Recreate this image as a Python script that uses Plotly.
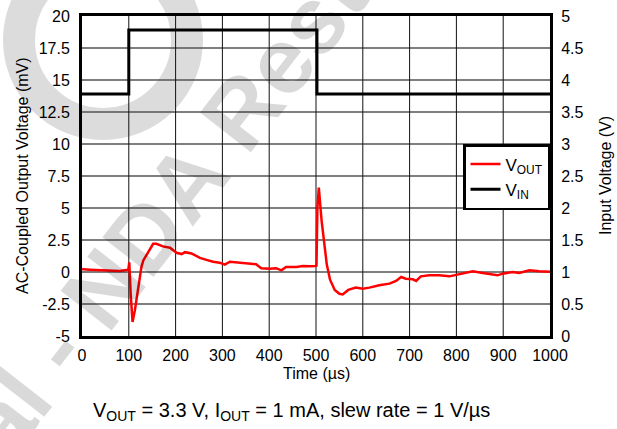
import plotly.graph_objects as go

# ---------------- data ----------------
time_us = [0, 3, 17, 38, 60, 81, 99, 101, 104, 108, 113, 120, 127, 131, 138, 145, 152,
           159, 173, 188, 202, 213, 220, 234, 252, 266, 280, 294, 305, 316, 337, 358,
           372, 383, 401, 415, 426, 436, 458, 472, 486, 499, 501, 503, 506, 512, 516,
           523, 530, 540, 550, 557, 569, 585, 600, 614, 635, 657, 671, 682, 692, 707,
           714, 724, 742, 763, 785, 803, 813, 835, 853, 870, 888, 899, 920, 934, 956,
           977, 1000]
vout_mv = [0.25, 0.21, 0.18, 0.13, 0.13, 0.08, 0.18, 0.75, -1.7, -3.9, -3.0, -1.4, 0.4,
           0.9, 1.3, 1.7, 2.2, 2.2, 2.0, 1.9, 1.5, 1.4, 1.55, 1.45, 1.1, 0.95, 0.8, 0.73,
           0.57, 0.8, 0.73, 0.7, 0.6, 0.3, 0.26, 0.3, 0.13, 0.4, 0.4, 0.47, 0.44, 0.47,
           0.5, 5.0, 6.6, 4.0, 2.7, 0.6, -0.6, -1.4, -1.7, -1.75, -1.4, -1.22, -1.3,
           -1.22, -1.04, -0.91, -0.7, -0.39, -0.52, -0.57, -0.7, -0.34, -0.26, -0.26,
           -0.34, -0.18, -0.13, 0.05, -0.05, -0.18, -0.26, -0.13, 0.0, -0.08, 0.13,
           0.05, 0.02]

vin_time_us = [0, 100, 100, 502, 502, 1000]
vin_v = [3.78, 3.78, 4.78, 4.78, 3.78, 3.78]

x_ticks = [0, 100, 200, 300, 400, 500, 600, 700, 800, 900, 1000]
y_ticks = [-5, -2.5, 0, 2.5, 5, 7.5, 10, 12.5, 15, 17.5, 20]
y_tick_labels = ["-5", "-2.5", "0", "2.5", "5", "7.5", "10", "12.5", "15", "17.5", "20"]
y2_ticks = [0, 0.5, 1, 1.5, 2, 2.5, 3, 3.5, 4, 4.5, 5]
y2_tick_labels = ["0", "0.5", "1", "1.5", "2", "2.5", "3", "3.5", "4", "4.5", "5"]

FONT = "Liberation Sans, Arial, Helvetica, sans-serif"

W, H = 617, 429
L, R, T, B = 82, 67, 16, 93
PW, PH = W - L - R, H - T - B


def px_x(px):
    return (px - L) / PW


def px_y(py):
    return (H - B - py) / PH


# grid lines built from the tick arrays (drawn first, under the data)
x_lo, x_hi = x_ticks[0], x_ticks[-1]
y_lo, y_hi = y_ticks[0], y_ticks[-1]
vgrid_x, vgrid_y = [], []
for t in x_ticks[1:-1]:
    vgrid_x += [t, t, None]
    vgrid_y += [y_lo, y_hi, None]
hgrid_x, hgrid_y = [], []
for v in y_ticks[1:-1]:
    hgrid_x += [x_lo, x_hi, None]
    hgrid_y += [v, v, None]

fig = go.Figure()
fig.add_trace(go.Scatter(x=hgrid_x, y=hgrid_y, mode="lines", showlegend=False,
                         hoverinfo="skip", line=dict(color="#555555", width=1.5)))
fig.add_trace(go.Scatter(x=vgrid_x, y=vgrid_y, mode="lines", showlegend=False,
                         hoverinfo="skip", line=dict(color="#111111", width=1)))
fig.add_trace(go.Scatter(x=time_us, y=vout_mv, mode="lines", name="V<sub>OUT</sub>",
                         line=dict(color="#ff0000", width=2.5)))
fig.add_trace(go.Scatter(x=vin_time_us, y=vin_v, mode="lines", name="V<sub>IN</sub>",
                         yaxis="y2", line=dict(color="#000000", width=3)))

INVIS = "rgba(0,0,0,0)"
fig.update_layout(
    width=W, height=H, autosize=False,
    margin=dict(l=L, r=R, t=T, b=B, pad=0, autoexpand=False),
    paper_bgcolor="white", plot_bgcolor="rgba(0,0,0,0)",
    font=dict(family=FONT, size=16, color="black"),
    showlegend=True,
    legend=dict(x=1, xanchor="right", y=0.6, yanchor="top",
                bgcolor="white", bordercolor="black", borderwidth=2.5,
                font=dict(family=FONT, size=17, color="black"),
                itemwidth=30, tracegroupgap=0),
    xaxis=dict(range=[x_lo, x_hi], tickvals=x_ticks, ticks="outside", ticklen=3,
               tickcolor=INVIS, automargin=False,
               showgrid=False, zeroline=False,
               showline=True, mirror=True, linecolor="black", linewidth=3,
               tickfont=dict(size=16, color="black")),
    yaxis=dict(range=[y_lo, y_hi], tickvals=y_ticks, ticktext=y_tick_labels,
               ticks="outside", ticklen=6, tickcolor=INVIS, automargin=False,
               showgrid=False, zeroline=False,
               showline=True, mirror=True, linecolor="black", linewidth=3,
               tickfont=dict(size=16, color="black")),
    yaxis2=dict(range=[0, 5], tickvals=y2_ticks, ticktext=y2_tick_labels,
                ticks="outside", ticklen=5, tickcolor=INVIS, automargin=False,
                overlaying="y", side="right", showgrid=False, zeroline=False,
                showline=True, linecolor="black", linewidth=3,
                tickfont=dict(size=16, color="black")),
)

# watermark ring (below everything)
fig.add_shape(type="circle", xref="paper", yref="paper", layer="below",
              x0=px_x(103 - 84), x1=px_x(103 + 84), y0=px_y(40 + 84), y1=px_y(40 - 84),
              line=dict(color="#dcdcdc", width=32), fillcolor="rgba(0,0,0,0)")

annotations = [
    # watermark text
    dict(text="<b>TI Confidential - NDA Restrictions</b>", xref="paper", yref="paper",
         x=px_x(92), y=px_y(302), xanchor="center", yanchor="middle", showarrow=False,
         textangle=-52, font=dict(family=FONT, size=94, color="rgba(0,0,0,0.15)")),
    # axis titles
    dict(text="AC-Coupled Output Voltage (mV)", xref="paper", yref="paper",
         x=px_x(22), y=0.5, xanchor="center", yanchor="middle", showarrow=False,
         textangle=-90, font=dict(family=FONT, size=16, color="black")),
    dict(text="Input Voltage (V)", xref="paper", yref="paper",
         x=px_x(605), y=0.5, xanchor="center", yanchor="middle", showarrow=False,
         textangle=-90, font=dict(family=FONT, size=16, color="black")),
    dict(text="Time (µs)", xref="paper", yref="paper",
         x=0.5, y=px_y(373), xanchor="center", yanchor="middle", showarrow=False,
         font=dict(family=FONT, size=16, color="black")),
    # caption
    dict(text="V<sub>OUT</sub> = 3.3 V, I<sub>OUT</sub> = 1 mA, slew rate = 1 V/µs",
         xref="paper", yref="paper", x=px_x(291), y=px_y(411),
         xanchor="center", yanchor="middle", showarrow=False,
         font=dict(family=FONT, size=20, color="black")),
]
fig.update_layout(annotations=annotations)

fig.write_html("out.html", config={"displayModeBar": False},
               post_script="document.body.style.margin='0';document.body.style.padding='0';")
